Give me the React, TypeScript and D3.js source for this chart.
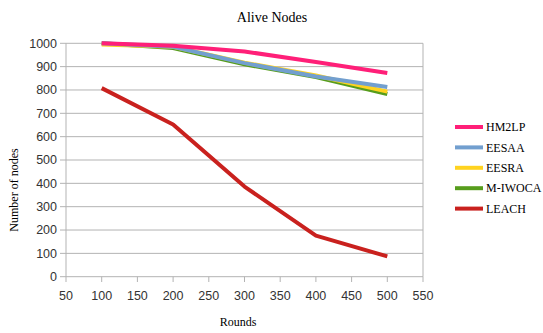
import React from "react";
import * as d3 from "d3";

const rounds = [100, 200, 300, 400, 500];
const seriesNames = ["HM2LP", "EESAA", "EESRA", "M-IWOCA", "LEACH"];
const hm2lp = [1000, 990, 965, 920, 873];
const eesaa = [1000, 985, 915, 858, 813];
const eesra = [995, 985, 917, 862, 793];
const miwoca = [1000, 980, 910, 855, 783];
const leach = [808, 652, 386, 176, 87];
const xTicks = [50, 100, 150, 200, 250, 300, 350, 400, 450, 500, 550];
const yTicks = [0, 100, 200, 300, 400, 500, 600, 700, 800, 900, 1000];
const colors = ["#ff1f78", "#729fcf", "#ffd320", "#579d1c", "#c9211e"];

export default function App() {
  const values = [hm2lp, eesaa, eesra, miwoca, leach];
  const x = d3.scaleLinear().domain([50, 550]).range([66, 423]);
  const y = d3.scaleLinear().domain([0, 1000]).range([276.7, 43.3]);
  const line = d3
    .line<number>()
    .x((_, i) => x(rounds[i]))
    .y((d) => y(d));
  const order = [4, 3, 2, 1, 0];
  return (
    <svg
      width={543}
      height={333}
      style={{ position: "absolute", left: 0, top: 0, background: "#fff" }}
    >
      <rect x={0} y={0} width={543} height={333} fill="#fff" />
      {yTicks.map((t) => (
        <g key={"y" + t}>
          <line x1={60} x2={423} y1={y(t)} y2={y(t)} stroke="#b3b3b3" strokeWidth={1} />
          <text
            x={57}
            y={y(t)}
            dy="0.35em"
            textAnchor="end"
            fontFamily="Liberation Sans, Arial, sans-serif"
            fontSize={12.5}
            fill="#333"
          >
            {t}
          </text>
        </g>
      ))}
      <line x1={66} x2={66} y1={43.3} y2={276.7} stroke="#b3b3b3" />
      <line x1={423} x2={423} y1={43.3} y2={276.7} stroke="#b3b3b3" />
      {xTicks.map((t) => (
        <g key={"x" + t}>
          <line x1={x(t)} x2={x(t)} y1={276.7} y2={282} stroke="#b3b3b3" />
          <text
            x={x(t)}
            y={296}
            dy="0.35em"
            textAnchor="middle"
            fontFamily="Liberation Sans, Arial, sans-serif"
            fontSize={12.5}
            fill="#333"
          >
            {t}
          </text>
        </g>
      ))}
      {order.map((i) => (
        <path
          key={seriesNames[i]}
          d={line(values[i]) || ""}
          fill="none"
          stroke={colors[i]}
          strokeWidth={4}
          strokeLinejoin="round"
        />
      ))}
      <text
        x={272}
        y={17}
        dy="0.35em"
        textAnchor="middle"
        fontFamily="Liberation Serif, serif"
        fontSize={14}
        fill="#000"
      >
        Alive Nodes
      </text>
      <text
        x={238}
        y={322}
        dy="0.35em"
        textAnchor="middle"
        fontFamily="Liberation Serif, serif"
        fontSize={12}
        fill="#000"
      >
        Rounds
      </text>
      <text
        transform="translate(14,190) rotate(-90)"
        dy="0.35em"
        textAnchor="middle"
        fontFamily="Liberation Serif, serif"
        fontSize={12}
        fill="#000"
      >
        Number of nodes
      </text>
      {seriesNames.map((n, i) => (
        <g key={"lg" + n} transform={`translate(0,${127 + i * 20.4})`}>
          <line x1={455} x2={483} y1={0} y2={0} stroke={colors[i]} strokeWidth={4} />
          <text
            x={486}
            y={0}
            dy="0.35em"
            fontFamily="Liberation Serif, serif"
            fontSize={12}
            fill="#000"
          >
            {n}
          </text>
        </g>
      ))}
    </svg>
  );
}
